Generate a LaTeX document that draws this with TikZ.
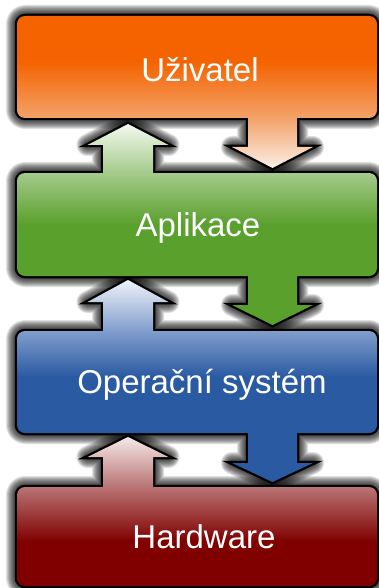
\documentclass[tikz,border=0pt]{standalone}
\usepackage{fontspec}
\setmainfont{Liberation Sans}

\definecolor{usertop}{HTML}{F46300}
\definecolor{usermid}{HTML}{F3A46C}
\definecolor{usertip}{HTML}{FBEFE6}
\definecolor{appgreen}{HTML}{5AA02C}
\definecolor{applight}{HTML}{A5CB8C}
\definecolor{apptip}{HTML}{F3F9EF}
\definecolor{osblue}{HTML}{2A5AA1}
\definecolor{oslight}{HTML}{7E9BCB}
\definecolor{ostip}{HTML}{EEF2F9}
\definecolor{hwred}{HTML}{800000}
\definecolor{hwlight}{HTML}{B87272}
\definecolor{hwtip}{HTML}{F5E8E8}

% vertical shadings, bottom stop first (path fills 25bp..75bp)
\pgfdeclareverticalshading{usershade}{100bp}{color(0bp)=(usertip); color(25bp)=(usertip); color(41bp)=(usermid); color(60bp)=(usertop); color(100bp)=(usertop)}
\pgfdeclareverticalshading{appshade}{100bp}{color(0bp)=(appgreen); color(50bp)=(appgreen); color(63bp)=(applight); color(75bp)=(apptip); color(100bp)=(apptip)}
\pgfdeclareverticalshading{osshade}{100bp}{color(0bp)=(osblue); color(51bp)=(osblue); color(62bp)=(oslight); color(75bp)=(ostip); color(100bp)=(ostip)}
\pgfdeclareverticalshading{hwshade}{100bp}{color(0bp)=(hwred); color(40bp)=(hwred); color(58bp)=(hwlight); color(75bp)=(hwtip); color(100bp)=(hwtip)}

% pieces of one layer: box, arrow down, arrow up
\newcommand{\layerbox}[2]{[rounded corners=8pt] (17,#1) -- (377,#1) -- (377,#2) -- (17,#2) -- cycle [sharp corners]}
\newcommand{\arrdown}[3]{(297,#1) -- (297,#2) -- (313,#2) -- (272.5,#3) -- (232,#2) -- (248,#2) -- (248,#1) -- cycle}
\newcommand{\arrup}[3]{(103,#1) -- (103,#2) -- (87.5,#2) -- (128,#3) -- (168.5,#2) -- (153,#2) -- (153,#1) -- cycle}

\newcommand{\userpath}{\layerbox{16}{118} \arrdown{110}{147}{168}}
\newcommand{\apppath}{\layerbox{173}{276} \arrup{181}{145}{124} \arrdown{268}{305}{325}}
\newcommand{\ospath}{\layerbox{331}{433} \arrup{339}{302}{280} \arrdown{425}{463}{482}}
\newcommand{\hwpath}{\layerbox{487}{586} \arrup{495}{457}{437}}

\begin{document}
\begin{tikzpicture}[
  x=1pt, y=-1pt,
  glow/.style={draw=black, line width=#1, opacity=0.12, line join=round},
  layer/.style={preaction={draw=black, line width=4.5pt}, shading=#1},
  layertext/.style={anchor=base, text=white, font=\fontsize{33}{39}\selectfont}
]
\useasboundingbox (0,0) rectangle (378,588);

% shadows first, so none falls on a layer
\foreach \w in {4,6,...,22} {
  \path[glow=\w pt] \userpath;
  \path[glow=\w pt] \apppath;
  \path[glow=\w pt] \ospath;
  \path[glow=\w pt] \hwpath;
}

\shade[layer=usershade] \userpath;
\shade[layer=appshade] \apppath;
\shade[layer=osshade] \ospath;
\shade[layer=hwshade] \hwpath;

\node[layertext] (user) at (200,82) {Uživatel};
\node[layertext] (app) at (198,236) {Aplikace};
\node[layertext] (os) at (202,393) {Operační systém};
\node[layertext] (hw) at (204,548) {Hardware};
\end{tikzpicture}
\end{document}
